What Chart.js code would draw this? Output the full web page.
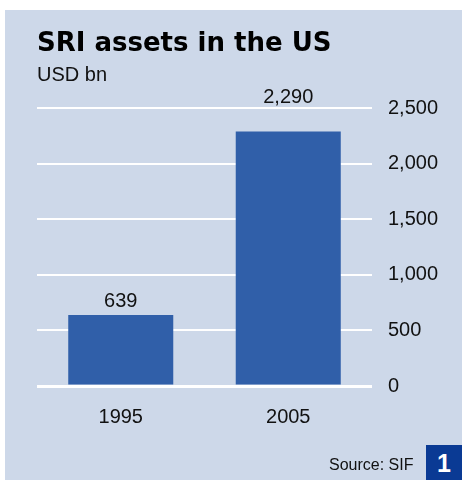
<!DOCTYPE html>
<html>
<head>
<meta charset="utf-8">
<script src="https://cdn.jsdelivr.net/npm/chart.js@4"></script>
<style>
  body { margin: 0; background: #ffffff; }
  .panel { position: absolute; left: 5px; top: 10px; width: 457px; height: 470px; background: #cdd8e9; }
  .source { position: absolute; left: 324px; top: 446px; font: 16px "Liberation Sans", Arial, sans-serif; color: #111; }
  .badge { position: absolute; left: 421px; top: 435px; width: 36px; height: 35px; background: #0a3a94; color: #fff;
           font: bold 25px "Liberation Sans", Arial, sans-serif; text-align: center; line-height: 36px; }
</style>
</head>
<body>
<div class="panel">
  <canvas id="chart" width="457" height="470"></canvas>
  <div class="source">Source: SIF</div>
  <div class="badge">1</div>
</div>
<script>
const years = ["1995", "2005"];
const assets = [639, 2290];
const yTicks = [0, 500, 1000, 1500, 2000, 2500];

// value labels over the bars, pushed above the plot if they would hit the top line
const barLabels = {
  id: "barLabels",
  afterDatasetsDraw(chart) {
    const ctx = chart.ctx;
    const meta = chart.getDatasetMeta(0);
    ctx.save();
    ctx.font = '20px "Liberation Sans", Arial, sans-serif';
    ctx.fillStyle = "#111";
    ctx.textAlign = "center";
    ctx.textBaseline = "alphabetic";
    meta.data.forEach((bar, i) => {
      let y = bar.y - 8;
      if (y - 16 < chart.chartArea.top) y = chart.chartArea.top - 5;
      ctx.fillText(assets[i].toLocaleString("en-US"), bar.x, y);
    });
    ctx.restore();
  },
};

const ctx = document.getElementById("chart");
const myChart = new Chart(ctx, {
  type: "bar",
  data: {
    labels: years,
    datasets: [
      {
        data: assets,
        backgroundColor: "#305fa9",
        barPercentage: 0.627,
        categoryPercentage: 1,
      },
    ],
  },
  options: {
    responsive: false,
    animation: false,
    layout: { padding: { left: 32, right: 0, top: 0, bottom: 40 } },
    plugins: {
      legend: { display: false },
      tooltip: { enabled: false },
      title: {
        display: true,
        text: "SRI assets in the US",
        align: "start",
        color: "#000",
        font: { family: "DejaVu Sans", size: 26, weight: "bold" },
        padding: { top: 19, bottom: 0 },
      },
      subtitle: {
        display: true,
        text: "USD bn",
        align: "start",
        color: "#111",
        font: { family: "Liberation Sans", size: 20 },
        padding: { top: 3, bottom: 21 },
      },
    },
    scales: {
      x: {
        grid: { display: false },
        border: { display: false },
        ticks: {
          color: "#111",
          padding: 11,
          font: { family: "Liberation Sans", size: 20 },
        },
      },
      y: {
        position: "right",
        min: 0,
        max: 2500,
        afterBuildTicks: (scale) => {
          scale.ticks = yTicks.map((v) => ({ value: v }));
        },
        afterFit: (scale) => {
          scale.width = 90;
        },
        grid: {
          color: "#ffffff",
          lineWidth: (c) => (c.tick && c.tick.value === 0 ? 3 : 2),
          drawTicks: false,
        },
        border: { display: false },
        ticks: {
          color: "#111",
          padding: 16,
          font: { family: "Liberation Sans", size: 20 },
          callback: (v) => v.toLocaleString("en-US"),
        },
      },
    },
  },
  plugins: [barLabels],
});
</script>
</body>
</html>
